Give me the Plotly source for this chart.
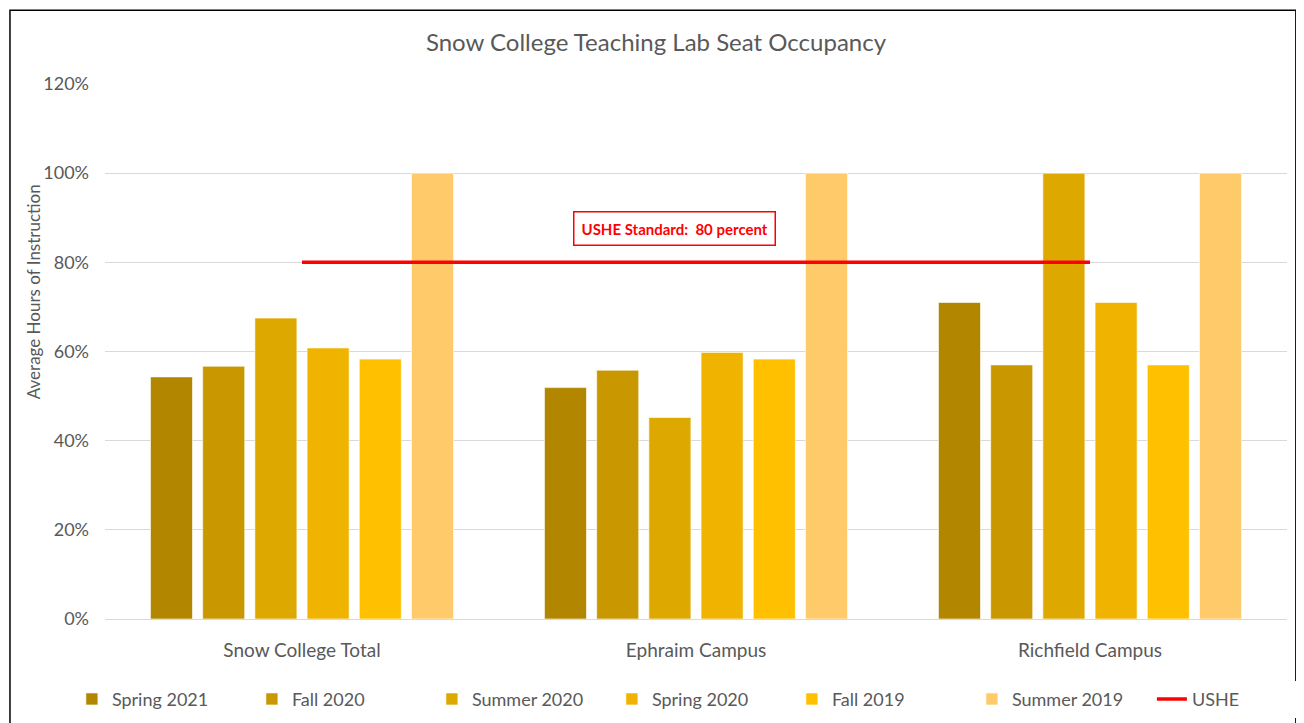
import plotly.graph_objects as go

categories = ["Snow College Total", "Ephraim Campus", "Richfield Campus"]
series_names = ["Spring 2021", "Fall 2020", "Summer 2020", "Spring 2020", "Fall 2019", "Summer 2019"]
spring_2021 = [0.543, 0.519, 0.710]
fall_2020 = [0.567, 0.558, 0.570]
summer_2020 = [0.675, 0.452, 1.000]
spring_2020 = [0.608, 0.598, 0.710]
fall_2019 = [0.583, 0.583, 0.570]
summer_2019 = [1.000, 1.000, 1.000]
ushe = [0.80, 0.80, 0.80]

colors = ["#B38600", "#C99700", "#DDA800", "#EFB300", "#FFC000", "#FFCA6A"]
values = [spring_2021, fall_2020, summer_2020, spring_2020, fall_2019, summer_2019]

FONT = "Lato, 'Open Sans', sans-serif"
GREY = "#595959"

fig = go.Figure()
for name, vals, c in zip(series_names, values, colors):
    fig.add_trace(go.Bar(x=categories, y=vals, name=name,
                         marker=dict(color=c, line=dict(color="rgba(255,255,255,0.6)", width=1))))
fig.add_trace(go.Scatter(x=categories, y=ushe, name="USHE", mode="lines",
                         line=dict(color="#FF0000", width=3.5)))

fig.update_layout(
    width=1296, height=715,
    paper_bgcolor="white", plot_bgcolor="white",
    margin=dict(l=97, r=17, t=76, b=104, autoexpand=False),
    barmode="group", bargap=0.205, bargroupgap=0.195,
    font=dict(family=FONT, color=GREY),
    title=dict(text="Snow College Teaching Lab Seat Occupancy", x=0.5, xanchor="center",
               y=1 - 35 / 715, yanchor="middle", font=dict(size=24, color=GREY, family=FONT)),
    showlegend=True,
    legend=dict(orientation="h", x=-0.028, xanchor="left", y=-0.15, yanchor="middle",
                font=dict(size=18, color=GREY, family=FONT), traceorder="normal",
                itemwidth=30, entrywidth=135, entrywidthmode="pixels"),
    xaxis=dict(showgrid=False, tickfont=dict(size=19, color=GREY), ticks="",
               showline=False, automargin=False, ticklabelstandoff=18),
    yaxis=dict(range=[0, 1.2], dtick=0.2, tickformat=".0%", showgrid=True,
               gridcolor="#D9D9D9", gridwidth=1.3, zeroline=True, zerolinecolor="#D9D9D9",
               zerolinewidth=1.3, tickfont=dict(size=18, color=GREY), ticks="",
               automargin=False, ticklabelstandoff=15),
    annotations=[
        dict(text="<b>USHE Standard:  80 percent</b>", xref="paper", yref="y",
             x=0.482, y=0.876, showarrow=False,
             font=dict(size=15, color="#FF0000", family=FONT),
             bordercolor="#FF0000", borderwidth=1.5, borderpad=7, bgcolor="white"),
        dict(text="Average Hours of Instruction", xref="paper", yref="paper",
             x=-0.0608, y=0.611, showarrow=False, textangle=-90,
             xanchor="center", yanchor="middle",
             font=dict(size=17, color=GREY, family=FONT)),
    ],
    shapes=[dict(type="rect", xref="paper", yref="paper", x0=-0.0804, x1=1.0075,
                 y0=-0.3, y1=1.138, line=dict(color="black", width=1.5), layer="below")],
)

fig.write_html("out.html")
